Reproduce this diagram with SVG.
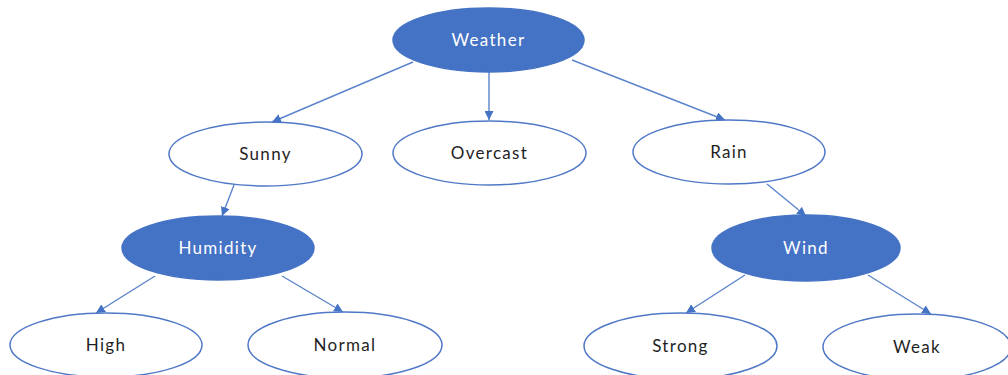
<svg xmlns="http://www.w3.org/2000/svg" width="1008" height="375" viewBox="0 0 1008 375">
<defs>
<marker id="arr" viewBox="0 0 10 10" refX="10" refY="5" markerWidth="9" markerHeight="9" markerUnits="userSpaceOnUse" orient="auto">
<path d="M0,0 L10,5 L0,10 z" fill="#4472C4"/>
</marker>
</defs>
<style>
.dark ellipse{fill:#4472C4;stroke:#4472C4;stroke-width:1.5}
.light ellipse{fill:#ffffff;stroke:#4F78C6;stroke-width:1.5}
text{font-family:Lato,"Open Sans","Liberation Sans",sans-serif;font-size:17px;letter-spacing:1.3px;text-anchor:middle}
.dark text{fill:#ffffff}
.light text{fill:#1f1f1f}
.edges line{stroke:#5B84CC;stroke-width:1.4;marker-end:url(#arr)}
</style>
<rect width="1008" height="375" fill="#ffffff"/>
<g class="edges" id="connectors">
<line x1="413" y1="62" x2="272" y2="122"/>
<line x1="489" y1="72" x2="489" y2="120"/>
<line x1="572" y1="60" x2="725" y2="120"/>
<line x1="234" y1="185" x2="222" y2="216"/>
<line x1="767" y1="184" x2="806" y2="216"/>
<line x1="155" y1="276" x2="96" y2="313"/>
<line x1="282" y1="276" x2="343" y2="312"/>
<line x1="745" y1="275" x2="686" y2="313"/>
<line x1="868" y1="275" x2="931" y2="314"/>
</g>
<g class="dark" id="weather"><ellipse cx="488.5" cy="40" rx="95.5" ry="32"/><text x="488.5" y="46">Weather</text></g>
<g class="light" id="sunny"><ellipse cx="265.5" cy="154" rx="96.5" ry="32"/><text x="265.5" y="160">Sunny</text></g>
<g class="light" id="overcast"><ellipse cx="489.5" cy="153" rx="96.5" ry="32"/><text x="489.5" y="159">Overcast</text></g>
<g class="light" id="rain"><ellipse cx="729" cy="152" rx="96" ry="32"/><text x="729" y="158">Rain</text></g>
<g class="dark" id="humidity"><ellipse cx="218" cy="248" rx="96" ry="32"/><text x="218" y="254">Humidity</text></g>
<g class="dark" id="wind"><ellipse cx="806" cy="248" rx="94" ry="33"/><text x="806" y="254">Wind</text></g>
<g class="light" id="high"><ellipse cx="106" cy="345" rx="96" ry="32"/><text x="106" y="351">High</text></g>
<g class="light" id="normal"><ellipse cx="345" cy="345" rx="97" ry="33"/><text x="345" y="351">Normal</text></g>
<g class="light" id="strong"><ellipse cx="680.5" cy="346" rx="96.5" ry="33"/><text x="680.5" y="352">Strong</text></g>
<g class="light" id="weak"><ellipse cx="917" cy="347" rx="94" ry="33"/><text x="917" y="353">Weak</text></g>
</svg>
